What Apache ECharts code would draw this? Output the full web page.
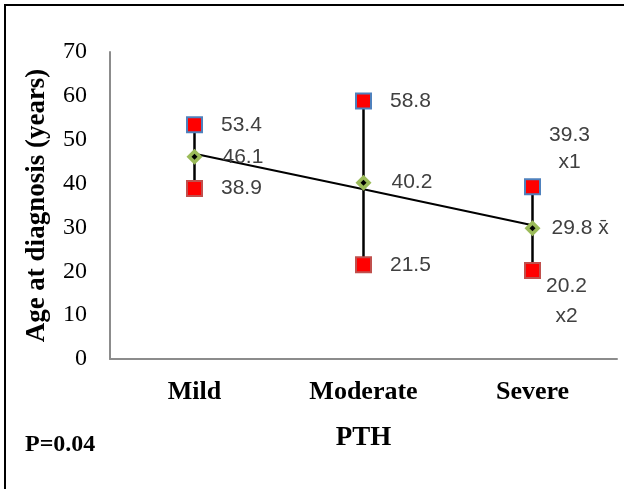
<!DOCTYPE html>
<html><head><meta charset="utf-8">
<script src="https://cdn.jsdelivr.net/npm/echarts@6/dist/echarts.min.js"></script>
<style>html,body{margin:0;padding:0;background:#fff}#c{width:624px;height:489px}</style>
</head><body><div id="c"></div>
<script>
const categories = ['Mild', 'Moderate', 'Severe'];
const highValues = [53.4, 58.8, 39.3];
const meanValues = [46.1, 40.2, 29.8];
const lowValues = [38.9, 21.5, 20.2];
const trendValues = [46.8, 38.7, 30.5];
const yTickLabels = ['0', '10', '20', '30', '40', '50', '60', '70'];
const highTags = ['', '', 'x1'];
const meanTags = ['', '', 'x\u0304'];
const lowTags = ['', '', 'x2'];
const axisTitleX = 'PTH';
const axisTitleY = 'Age at diagnosis (years)';
const pText = 'P=0.04';

const labelFont = { fontFamily: 'Liberation Sans', fontSize: 21, color: '#404040' };

const chart = echarts.init(document.getElementById('c'), null, { renderer: 'canvas' });

const highData = highValues.map((v, i) => {
  const d = { value: v };
  if (highTags[i]) {
    d.label = { position: 'inside', offset: [37, -38], align: 'center', lineHeight: 27,
      formatter: '{c}\n' + highTags[i] };
  }
  return d;
});
const lowData = lowValues.map((v, i) => {
  const d = { value: v };
  if (lowTags[i]) {
    d.label = { position: 'inside', offset: [34, 31], align: 'center', lineHeight: 30,
      formatter: '{c}\n' + lowTags[i] };
  }
  return d;
});
const meanData = meanValues.map((v, i) => {
  const d = { value: v };
  if (meanTags[i]) {
    d.label = { distance: 11, formatter: '{c} ' + meanTags[i] };
  }
  return d;
});

chart.setOption({
  animation: false,
  backgroundColor: '#fff',
  grid: { left: 110, right: 7, top: 52, bottom: 130 },
  xAxis: {
    type: 'category',
    data: categories,
    boundaryGap: true,
    name: axisTitleX,
    nameLocation: 'middle',
    nameGap: 66,
    nameTextStyle: { fontFamily: 'Liberation Serif', fontWeight: 'bold', fontSize: 27, color: '#000' },
    axisLine: { lineStyle: { color: '#8c8c8c', width: 2 } },
    axisTick: { show: false },
    axisLabel: { fontFamily: 'Liberation Serif', fontWeight: 'bold', fontSize: 26, color: '#000', margin: 20 }
  },
  yAxis: {
    type: 'value',
    min: 0, max: 70, interval: 10,
    name: axisTitleY,
    nameLocation: 'middle',
    nameGap: 59,
    nameTextStyle: { fontFamily: 'Liberation Serif', fontWeight: 'bold', fontSize: 27, color: '#000' },
    axisLine: { show: true, lineStyle: { color: '#8c8c8c', width: 2 } },
    axisTick: { show: false },
    splitLine: { show: false },
    axisLabel: {
      fontFamily: 'Liberation Serif', fontSize: 24, color: '#000', margin: 23,
      formatter: (v) => yTickLabels[Math.round(v / 10)] ?? String(v)
    }
  },
  series: [
    {
      type: 'custom',
      z: 1,
      data: categories.map((c, i) => [i, lowValues[i], highValues[i]]),
      renderItem: (params, api) => {
        const p1 = api.coord([api.value(0), api.value(1)]);
        const p2 = api.coord([api.value(0), api.value(2)]);
        return { type: 'line', shape: { x1: p1[0], y1: p1[1], x2: p2[0], y2: p2[1] },
          style: { stroke: '#000', lineWidth: 2.5 } };
      },
      silent: true
    },
    {
      type: 'line',
      z: 2,
      data: trendValues,
      symbol: 'none',
      lineStyle: { color: '#000', width: 2 },
      silent: true
    },
    {
      type: 'line',
      z: 3,
      data: highData,
      symbol: 'rect',
      symbolSize: 15,
      lineStyle: { width: 0, opacity: 0 },
      itemStyle: { color: '#ff0000', borderColor: '#4f81bd', borderWidth: 2 },
      label: Object.assign({ show: true, position: 'right', distance: 18 }, labelFont)
    },
    {
      type: 'line',
      z: 3,
      data: lowData,
      symbol: 'rect',
      symbolSize: 15,
      lineStyle: { width: 0, opacity: 0 },
      itemStyle: { color: '#ff0000', borderColor: '#c0504d', borderWidth: 2 },
      label: Object.assign({ show: true, position: 'right', distance: 18 }, labelFont)
    },
    {
      type: 'line',
      z: 3,
      data: meanData,
      symbol: 'diamond',
      symbolSize: 16,
      lineStyle: { width: 0, opacity: 0 },
      itemStyle: { color: '#9bbb59', borderWidth: 0 },
      label: Object.assign({ show: true, position: 'right', distance: 20 }, labelFont)
    },
    {
      type: 'line',
      z: 4,
      data: meanValues,
      symbol: 'diamond',
      symbolSize: 6,
      lineStyle: { width: 0, opacity: 0 },
      itemStyle: { color: '#000', borderWidth: 0 },
      label: { show: false },
      silent: true
    }
  ],
  graphic: [
    { type: 'line', shape: { x1: 4, y1: 5, x2: 624, y2: 5 }, style: { stroke: '#000', lineWidth: 2 } },
    { type: 'line', shape: { x1: 5, y1: 4, x2: 5, y2: 489 }, style: { stroke: '#000', lineWidth: 2 } },
    { type: 'text', left: 25, top: 433,
      style: { text: pText, fontFamily: 'Liberation Serif', fontWeight: 'bold', fontSize: 24, fill: '#000' } }
  ]
});
</script>
</body></html>
